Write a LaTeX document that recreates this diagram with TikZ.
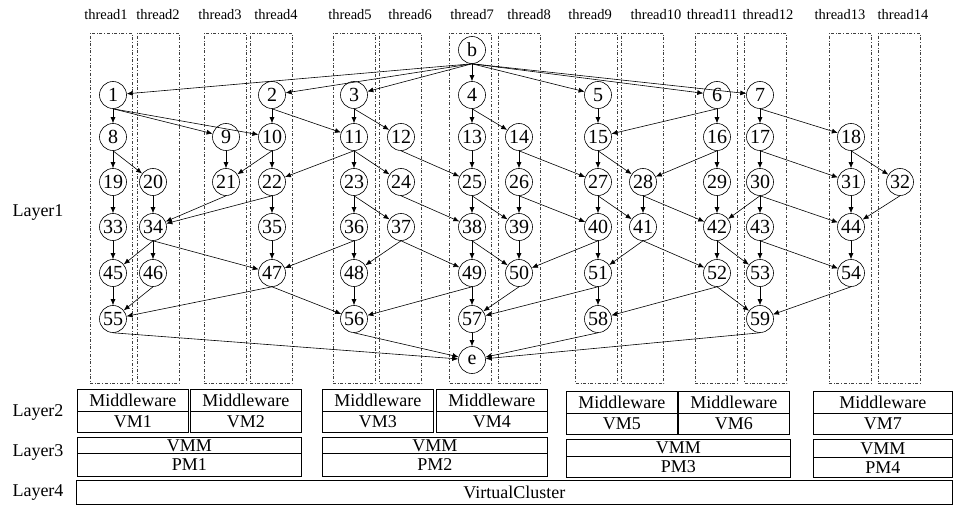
\documentclass[tikz,border=0pt]{standalone}
\usepackage{fontspec}
\setmainfont{Liberation Serif}
\usetikzlibrary{arrows.meta}
\begin{document}
\begin{tikzpicture}[x=1pt,y=-1pt,
  task/.style={circle,draw,line width=0.6pt,minimum size=27pt,inner sep=0pt,font=\fontsize{20}{20}\selectfont},
  dep/.style={-{Latex[length=6pt,width=5pt]},line width=0.6pt},
  thr/.style={draw,dash dot,line width=0.5pt,black!75,minimum width=42pt,minimum height=350pt,inner sep=0pt},
  thl/.style={font=\fontsize{14.5}{14.5}\selectfont},
  lbox/.style={draw,line width=0.6pt,inner sep=0pt,font=\fontsize{18}{18}\selectfont,anchor=north west},
  lay/.style={font=\fontsize{18}{18}\selectfont}]
\useasboundingbox (0,0) rectangle (953,505);

% thread columns
\foreach \n/\xa/\xb/\lx in {1/90/132/106,2/137/179/158,3/204/246/220,4/250/292/276,5/333/375/350,6/380/421/410,7/450/491/472,8/498/540/529,9/576/617/590,10/622/663/656,11/695/737/712,12/745/786/768,13/829/871/840,14/878/920/903}{
  \node[thr] (th\n) at ({(\xa+\xb)/2},208) {};
  \node[thl] (thl\n) at (\lx,15) {thread\n};
}

% tasks
\node[task] (nb) at (472,50) {b};
\node[task] (ne) at (472,360) {e};
\foreach \n/\x/\y in {
 1/113/95,2/272/95,3/354/95,4/472/95,5/598/95,6/717/95,7/760/95,
 8/113/137,9/226/137,10/272/137,11/354/137,12/401/137,13/472/137,14/519/137,15/598/137,16/717/137,17/760/137,18/851/137,
 19/113/182,20/153/182,21/226/182,22/272/182,23/354/182,24/401/182,25/472/182,26/519/182,27/598/182,28/643/182,29/717/182,30/760/182,31/851/182,32/900/182,
 33/113/227,34/153/227,35/272/227,36/354/227,37/401/227,38/472/227,39/519/227,40/598/227,41/643/227,42/717/227,43/760/227,44/851/227,
 45/113/273,46/153/273,47/272/273,48/354/273,49/472/273,50/519/273,51/598/273,52/717/273,53/760/273,54/851/273,
 55/113/319,56/354/319,57/472/319,58/598/319,59/760/319}{
  \node[task] (n\n) at (\x,\y) {\n};
}

% dependencies
\foreach \a/\b in {
 b/1,b/2,b/3,b/4,b/5,b/6,b/7,
 1/8,1/9,1/10,2/10,2/11,3/11,3/12,4/13,4/14,5/15,6/15,6/16,7/17,7/18,
 8/19,8/20,9/21,10/21,10/22,11/22,11/23,11/24,12/25,13/25,14/26,14/27,15/27,15/28,16/28,16/29,17/30,17/31,18/31,18/32,
 19/33,20/34,21/34,22/34,22/35,23/36,23/37,24/38,25/38,25/39,26/39,26/40,27/40,27/41,28/41,28/42,29/42,30/42,30/43,30/44,31/44,32/44,
 33/45,34/45,34/46,34/47,35/47,36/47,36/48,37/48,37/49,38/49,38/50,39/50,40/50,40/51,41/51,41/52,42/52,42/53,43/53,43/54,44/54,
 45/55,46/55,47/55,47/56,48/56,49/56,49/57,50/57,51/57,51/58,52/58,52/59,53/59,54/59,
 55/e,56/e,57/e,58/e,59/e}{
  \draw[dep] (n\a.south) -- (n\b);
}

% layer 2
\foreach \i/\x/\y/\w in {1/77/389/111,2/190/389/111,3/322/389/111,4/436/389/111,5/566/391/111,6/678/391/111,7/813/391/139}{
  \node[lbox,minimum width=\w pt,minimum height=22pt] (mw\i) at (\x,\y) {Middleware};
  \node[lbox,minimum width=\w pt,minimum height=21pt] (vm\i) at (\x,\y+22) {VM\i};
}
% layer 3
\foreach \i/\x/\y/\w/\ha/\hb in {1/77/437/224/16/23,2/322/437/225/16/23,3/566/439/224/17/21,4/813/439/139/18/20}{
  \node[lbox,minimum width=\w pt,minimum height=\ha pt] (vmm\i) at (\x,\y) {VMM};
  \node[lbox,minimum width=\w pt,minimum height=\hb pt] (pm\i) at (\x,\y+\ha) {PM\i};
}
% layer 4
\node[lbox,minimum width=876pt,minimum height=24pt] (vc) at (76,480) {VirtualCluster};

% layer labels
\node[lay] (l1) at (38,213) {Layer1};
\node[lay] (l2) at (38,412) {Layer2};
\node[lay] (l3) at (38,452) {Layer3};
\node[lay] (l4) at (38,493) {Layer4};
\end{tikzpicture}
\end{document}
